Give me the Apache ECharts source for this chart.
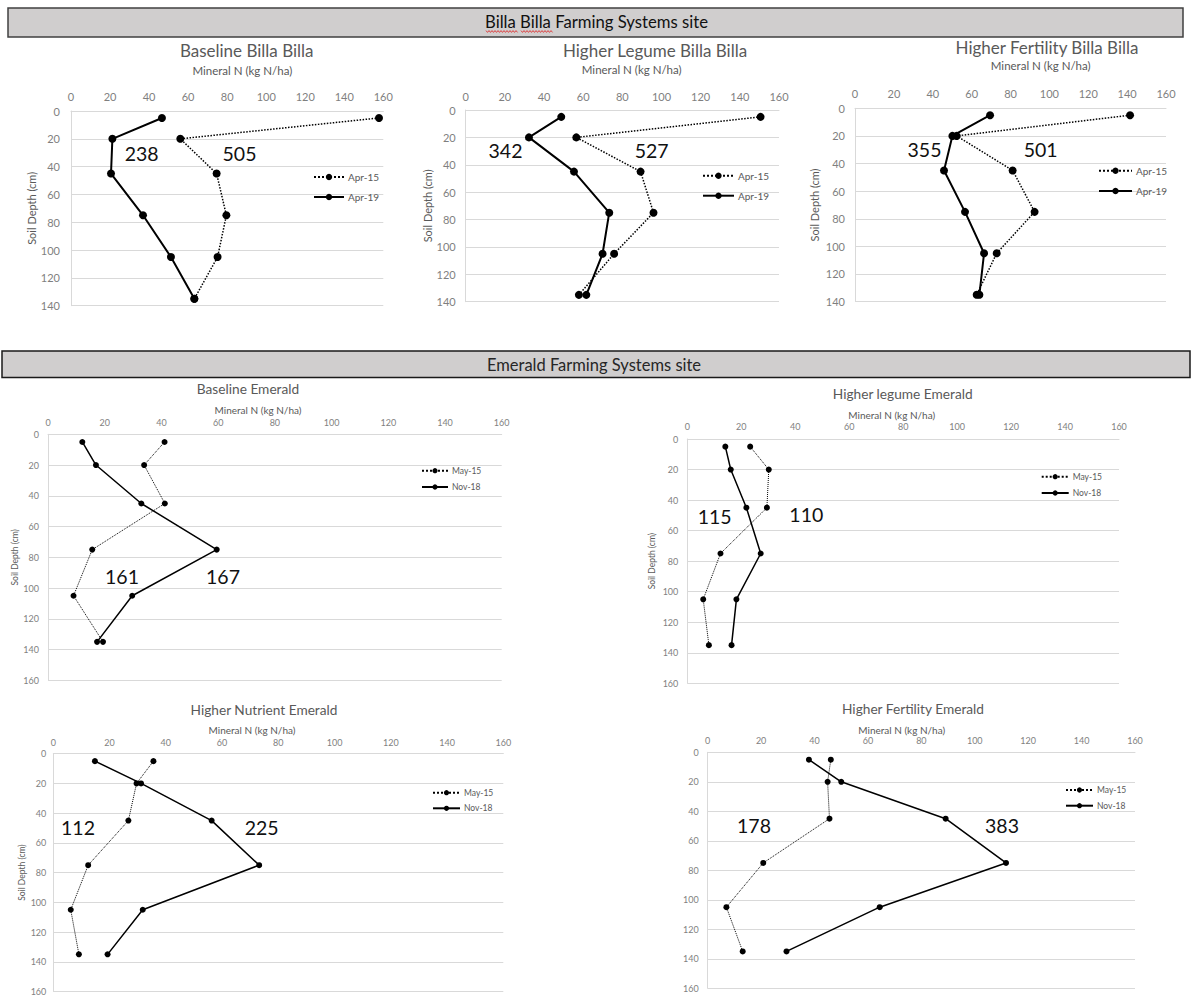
<!DOCTYPE html>
<html>
<head>
<meta charset="utf-8">
<script src="https://cdn.jsdelivr.net/npm/echarts@6/dist/echarts.min.js"></script>
<style>
html,body{margin:0;padding:0;background:#fff;}
#chart{width:1192px;height:996px;}
</style>
</head>
<body>
<div id="chart"></div>
<script>
// ---------------- DATA ----------------
const depths = [5, 20, 45, 75, 105, 135];
const xTicks = [0, 20, 40, 60, 80, 100, 120, 140, 160];

const bbBaselineApr15  = [157.8, 56.0, 74.6, 79.6, 75.1, 63.2];
const bbBaselineApr19  = [46.6, 21.2, 20.5, 36.9, 51.2, 63.2];
const bbLegumeApr15    = [150.6, 56.5, 89.3, 95.9, 75.8, 57.8];
const bbLegumeApr19    = [48.8, 32.3, 55.3, 73.3, 69.9, 61.6];
const bbFertilityApr15 = [141.5, 52.3, 81.1, 92.4, 72.9, 62.6];
const bbFertilityApr19 = [69.5, 50.1, 45.8, 56.6, 66.4, 64.0];

const emBaselineMay15  = [41.1, 33.9, 41.2, 15.6, 9.0, 19.4];
const emBaselineNov18  = [12.1, 16.9, 32.9, 59.5, 29.7, 17.3];
const emLegumeMay15    = [23.3, 30.2, 29.5, 12.3, 5.9, 8.0];
const emLegumeNov18    = [14.1, 16.1, 21.9, 27.2, 18.2, 16.4];
const emNutrientMay15  = [35.6, 29.6, 26.7, 12.4, 6.2, 9.1];
const emNutrientNov18  = [14.8, 31.2, 56.3, 73.2, 31.8, 19.3];
const emFertilityMay15 = [46.1, 44.9, 45.6, 20.8, 7.0, 13.1];
const emFertilityNov18 = [37.9, 50.0, 89.1, 111.7, 64.4, 29.5];

const bbSeriesNames = ['Apr-15', 'Apr-19'];
const emSeriesNames = ['May-15', 'Nov-18'];

const panelTitles = ['Baseline Billa Billa', 'Higher Legume Billa Billa', 'Higher Fertility Billa Billa',
  'Baseline Emerald', 'Higher legume Emerald', 'Higher Nutrient Emerald', 'Higher Fertility Emerald'];
const xAxisTitle = 'Mineral N (kg N/ha)';
const yAxisTitle = 'Soil Depth (cm)';
const siteHeaders = ['Billa Billa Farming Systems site', 'Emerald Farming Systems site'];
// total mineral N labels: [first date total, second date total] per panel
const totals = [[505, 238], [527, 342], [501, 355], [161, 167], [110, 115], [112, 225], [178, 383]];

// ---------------- LAYOUT ----------------
const FONT = 'Lato, "Open Sans", sans-serif';
const panels = [
  {v:[bbBaselineApr15, bbBaselineApr19], names:bbSeriesNames, big:true, yMax:140,
   grid:{left:71, top:111, width:312.3, height:194.7}, title:[246.7,50], sub:[242.3,70], labM:9.5, ylabM:11, nameGap:34,
   legend:{left:313, top:171, w:30, gap:8}, tot:[[239.5,153],[141.7,153]]},
  {v:[bbLegumeApr15, bbLegumeApr19], names:bbSeriesNames, big:true, yMax:140,
   grid:{left:465.7, top:110, width:313.3, height:191.7}, title:[655,50], sub:[631.7,69.3], labM:8.5, ylabM:10, nameGap:32,
   legend:{left:702, top:169.7, w:31, gap:8}, tot:[[651.7,150],[505.5,150]]},
  {v:[bbFertilityApr15, bbFertilityApr19], names:bbSeriesNames, big:true, yMax:140,
   grid:{left:855, top:108.3, width:311, height:193.3}, title:[1047,47.5], sub:[1040.7,65], labM:9, ylabM:10, nameGap:35,
   legend:{left:1098, top:164.7, w:33, gap:8.3}, tot:[[1040.7,149],[924.5,149]]},
  {v:[emBaselineMay15, emBaselineNov18], names:emSeriesNames, big:false, yMax:160,
   grid:{left:48, top:434.3, width:453.7, height:246}, title:[248,388], sub:[258,410], labM:7, ylabM:9, nameGap:28.7,
   legend:{left:421, top:465.7, w:26, gap:6.3}, tot:[[122,576.7],[223,576.7]]},
  {v:[emLegumeMay15, emLegumeNov18], names:emSeriesNames, big:false, yMax:160,
   grid:{left:687.3, top:439, width:431.7, height:244.3}, title:[902.7,393], sub:[891.7,415], labM:8, ylabM:9, nameGap:30.7,
   legend:{left:1040.7, top:471.7, w:27, gap:6.3}, tot:[[806.3,514],[714.7,516.7]]},
  {v:[emNutrientMay15, emNutrientNov18], names:emSeriesNames, big:false, yMax:160,
   grid:{left:53.3, top:753.7, width:450, height:239}, title:[264,709], sub:[252,730], labM:7, ylabM:7, nameGap:26.3,
   legend:{left:432, top:787.7, w:27, gap:5.6}, tot:[[78,827.7],[261.7,827.7]]},
  {v:[emFertilityMay15, emFertilityNov18], names:emSeriesNames, big:false, yMax:160,
   grid:{left:707.7, top:752.3, width:427.3, height:236}, title:[913,708], sub:[901.7,730], labM:7, ylabM:9, nameGap:null,
   legend:{left:1065, top:785, w:27, gap:5.7}, tot:[[754,825.7],[1002,825]]}
];

const GRID_C = '#d9d9d9';
const TEXT_C = '#595959';
const TICK_C = '#7f7f7f';

const grids = [], xAxes = [], yAxes = [], series = [], legends = [], graphics = [];

panels.forEach((p, i) => {
  grids.push(Object.assign({containLabel:false}, p.grid));
  xAxes.push({
    type:'value', gridIndex:i, position:'top', min:0, max:160, interval:20,
    axisLine:{show:true, onZero:false, lineStyle:{color:GRID_C, width:1}},
    axisTick:{show:false}, splitLine:{show:false},
    axisLabel:{margin:p.labM, fontSize:p.big?11:9, color:TICK_C, fontFamily:FONT,
      formatter: v => xTicks.includes(v) ? String(v) : ''}
  });
  yAxes.push({
    type:'value', gridIndex:i, inverse:true, min:0, max:p.yMax, interval:20,
    axisLine:{show:true, lineStyle:{color:GRID_C, width:1}},
    axisTick:{show:false},
    splitLine:{show:true, lineStyle:{color:GRID_C, width:1}},
    axisLabel:{margin:p.ylabM, fontSize:p.big?11:9, color:TICK_C, fontFamily:FONT},
    name: p.nameGap == null ? '' : yAxisTitle, nameLocation:'middle', nameGap:p.nameGap || 0,
    nameTextStyle:{fontSize:p.big?11:8.5, color:TEXT_C, fontFamily:FONT}
  });
  p.v.forEach((vals, k) => {
    const dotted = k === 0;
    series.push({
      type:'line', name:p.names[k], xAxisIndex:i, yAxisIndex:i,
      data: depths.map((d, j) => [vals[j], d]),
      symbol:'circle', symbolSize:p.big?8:6, showSymbol:true,
      itemStyle:{color:'#000'},
      lineStyle:{color:'#000', width: dotted ? (p.big?1.5:1) : (p.big?2:1.5), type: dotted ? 'dotted' : 'solid'},
      animation:false, silent:true, z: dotted ? 2 : 3
    });
  });
  legends.push({
    data:p.names, orient:'vertical', left:p.legend.left, top:p.legend.top, padding:0,
    itemWidth:p.legend.w, itemHeight:p.big?8:6.5, itemGap:p.legend.gap, selectedMode:false,
    textStyle:{fontSize:p.big?10:8.5, lineHeight:p.big?12:10, color:TEXT_C, fontFamily:FONT, padding:[0,0,0,-1]}
  });
  graphics.push({type:'text', x:p.title[0], y:p.title[1], silent:true,
    style:{text:panelTitles[i], fontSize:p.big?17:13.7, fontFamily:FONT, fill:TEXT_C,
      align:'center', verticalAlign:'middle', textAlign:'center', textVerticalAlign:'middle'}});
  graphics.push({type:'text', x:p.sub[0], y:p.sub[1], silent:true,
    style:{text:xAxisTitle, fontSize:p.big?11.5:10, fontFamily:FONT, fill:TEXT_C,
      align:'center', verticalAlign:'middle', textAlign:'center', textVerticalAlign:'middle'}});
  totals[i].forEach((t, k) => {
    graphics.push({type:'text', x:p.tot[k][0], y:p.tot[k][1], silent:true,
      style:{text:String(t), fontSize:19.5, fontFamily:FONT, fill:'#111',
        align:'center', verticalAlign:'middle', textAlign:'center', textVerticalAlign:'middle'}});
  });
});

// site header bars
graphics.push({type:'rect', silent:true, shape:{x:8, y:8, width:1175, height:29},
  style:{fill:'#d0cece', stroke:'#404040', lineWidth:1.5}});
graphics.push({type:'text', x:596.5, y:22, silent:true,
  style:{text:siteHeaders[0], fontSize:16.7, fontFamily:FONT, fill:'#111',
    align:'center', verticalAlign:'middle', textAlign:'center', textVerticalAlign:'middle'}});
graphics.push({type:'rect', silent:true, shape:{x:2, y:351, width:1188, height:26.5},
  style:{fill:'#d0cece', stroke:'#1a1a1a', lineWidth:1.5}});
graphics.push({type:'text', x:594, y:364.5, silent:true,
  style:{text:siteHeaders[1], fontSize:16.5, fontFamily:FONT, fill:'#262626',
    align:'center', verticalAlign:'middle', textAlign:'center', textVerticalAlign:'middle'}});
// spell-check squiggle under "Billa Billa"
[[486, 518], [521, 553]].forEach(([a, b]) => {
  const pts = [];
  for (let x = a, s = 0; x <= b; x += 1.5, s++) pts.push([x, 31.5 + (s % 2 ? 0.9 : -0.9)]);
  graphics.push({type:'polyline', silent:true, shape:{points:pts}, style:{stroke:'#e02020', lineWidth:0.8, fill:null}});
});

const chart = echarts.init(document.getElementById('chart'), null, {renderer:'svg', width:1192, height:996});
chart.setOption({
  animation:false,
  backgroundColor:'#fff',
  textStyle:{fontFamily:FONT},
  grid:grids, xAxis:xAxes, yAxis:yAxes, series:series, legend:legends, graphic:graphics
});
</script>
</body>
</html>
